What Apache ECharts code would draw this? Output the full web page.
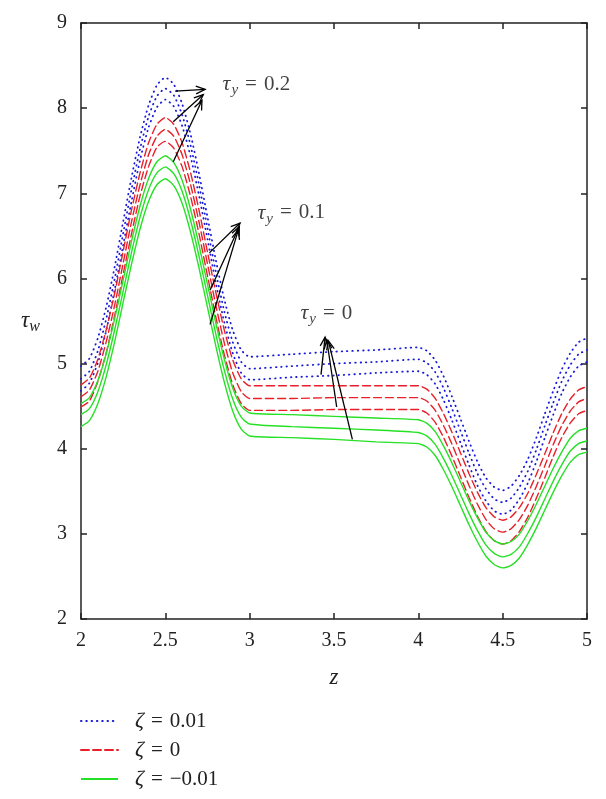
<!DOCTYPE html>
<html><head><meta charset="utf-8">
<script src="https://cdn.jsdelivr.net/npm/echarts@6/dist/echarts.min.js"></script>
<style>html,body{margin:0;padding:0;background:#fff}#c{width:606px;height:799px}</style>
</head><body><div id="c"></div>
<script>
const zVals = [2,2.05,2.1,2.15,2.2,2.25,2.3,2.35,2.4,2.45,2.5,2.55,2.6,2.65,2.7,2.75,2.8,2.85,2.9,2.95,3,
  3.25,3.5,3.75,
  4,4.05,4.1,4.15,4.2,4.25,4.3,4.35,4.4,4.45,4.5,4.55,4.6,4.65,4.7,4.75,4.8,4.85,4.9,4.95,5];

const blue02 = [4.97,5.06,5.30,5.67,6.14,6.67,7.19,7.66,8.03,8.27,8.36,8.28,8.05,7.69,7.23,6.72,6.21,5.75,5.39,5.16,5.08,
  5.11,5.14,5.16,
  5.19,5.15,5.04,4.85,4.61,4.35,4.09,3.85,3.66,3.55,3.51,3.56,3.69,3.88,4.13,4.41,4.68,4.93,5.12,5.25,5.30];
const blue01 = [4.82,4.91,5.15,5.53,6.00,6.53,7.05,7.52,7.90,8.14,8.23,8.15,7.92,7.56,7.10,6.59,6.07,5.61,5.25,5.02,4.94,
  4.97,5.00,5.02,
  5.05,5.01,4.90,4.71,4.47,4.21,3.95,3.71,3.53,3.41,3.37,3.42,3.55,3.74,3.99,4.27,4.54,4.79,4.98,5.11,5.16];
const blue00 = [4.68,4.77,5.01,5.39,5.87,6.39,6.91,7.39,7.77,8.01,8.10,8.02,7.79,7.43,6.97,6.46,5.94,5.48,5.12,4.89,4.81,
  4.84,4.86,4.89,
  4.91,4.87,4.76,4.57,4.33,4.07,3.81,3.57,3.39,3.27,3.23,3.28,3.41,3.60,3.85,4.13,4.40,4.65,4.84,4.97,5.02];

const red02 = [4.75,4.83,5.05,5.40,5.83,6.32,6.81,7.24,7.59,7.81,7.89,7.81,7.59,7.24,6.80,6.31,5.83,5.39,5.04,4.82,4.74,
  4.74,4.74,4.74,
  4.74,4.70,4.59,4.41,4.19,3.95,3.71,3.49,3.31,3.20,3.16,3.20,3.31,3.48,3.70,3.94,4.19,4.41,4.58,4.69,4.73];
const red01 = [4.61,4.69,4.91,5.26,5.69,6.18,6.67,7.10,7.45,7.67,7.75,7.67,7.45,7.10,6.66,6.17,5.68,5.24,4.89,4.67,4.59,
  4.59,4.60,4.60,
  4.60,4.56,4.45,4.27,4.05,3.81,3.57,3.35,3.17,3.06,3.02,3.06,3.17,3.34,3.56,3.80,4.05,4.27,4.44,4.55,4.59];
const red00 = [4.49,4.56,4.79,5.13,5.57,6.05,6.53,6.97,7.31,7.54,7.61,7.53,7.31,6.96,6.52,6.03,5.54,5.10,4.75,4.53,4.45,
  4.45,4.46,4.46,
  4.46,4.42,4.31,4.13,3.91,3.67,3.43,3.21,3.03,2.92,2.88,2.92,3.03,3.20,3.42,3.66,3.91,4.13,4.30,4.41,4.45];

const green02 = [4.53,4.60,4.80,5.12,5.53,5.98,6.44,6.85,7.17,7.37,7.44,7.36,7.15,6.81,6.39,5.93,5.47,5.05,4.71,4.50,4.42,
  4.40,4.38,4.36,
  4.34,4.30,4.20,4.03,3.83,3.61,3.39,3.19,3.02,2.92,2.88,2.91,3.00,3.16,3.35,3.56,3.77,3.96,4.12,4.21,4.24];
const green01 = [4.40,4.47,4.67,4.99,5.40,5.85,6.31,6.72,7.04,7.24,7.31,7.23,7.02,6.68,6.26,5.80,5.34,4.92,4.58,4.37,4.29,
  4.26,4.24,4.22,
  4.19,4.15,4.05,3.88,3.68,3.46,3.24,3.04,2.87,2.77,2.73,2.76,2.85,3.01,3.20,3.41,3.62,3.81,3.97,4.06,4.09];
const green00 = [4.26,4.33,4.53,4.85,5.26,5.72,6.17,6.58,6.90,7.10,7.17,7.09,6.88,6.54,6.12,5.66,5.20,4.78,4.44,4.23,4.15,
  4.13,4.11,4.08,
  4.06,4.02,3.92,3.75,3.55,3.33,3.11,2.91,2.74,2.64,2.60,2.63,2.72,2.88,3.07,3.28,3.49,3.68,3.84,3.93,3.96];

const legendNames = ['ζ = 0.01', 'ζ = 0', 'ζ = \u22120.01'];
const xTickLabels = ['2','2.5','3','3.5','4','4.5','5'];
const yTickLabels = ['2','3','4','5','6','7','8','9'];

// annotation arrows: [zTail, tauTail, zTip, tauTip]
const annotArrows = [
  [2.558,8.20,2.736,8.22],[2.547,7.84,2.725,8.16],[2.547,7.37,2.717,8.09],
  [2.761,6.30,2.943,6.65],[2.765,5.86,2.939,6.61],[2.765,5.46,2.933,6.57],
  [3.423,4.87,3.447,5.31],[3.516,4.49,3.457,5.28],[3.609,4.11,3.466,5.27]
];
const annotLabelPos = [[2.836,8.28],[3.043,6.77],[3.298,5.59]];
const annotLabelText = ['0.2','0.1','0'];

const FONT = 'Liberation Serif';
const BLUE = '#1a1adc', RED = '#e8202a', GREEN = '#26e026';
const SP = ' \u200A';

function pairs(ys){ return zVals.map((z,i)=>[z, ys[i]]); }
function lineSeries(name, ys, color, type, width){
  return {type:'line', name, data: pairs(ys), showSymbol:false, symbol:'none', smooth:0.2,
    lineStyle:{color, width, type, cap: type==='solid'?'butt':'round'}, itemStyle:{color},
    xAxisIndex:0, yAxisIndex:0, animation:false};
}
const dotted = [0.5,4.8], dashed = [8,4];

const series = [
  lineSeries(legendNames[0], blue02, BLUE, dotted, 1.8),
  lineSeries(legendNames[0], blue01, BLUE, dotted, 1.8),
  lineSeries(legendNames[0], blue00, BLUE, dotted, 1.8),
  lineSeries(legendNames[1], red02, RED, dashed, 1.4),
  lineSeries(legendNames[1], red01, RED, dashed, 1.4),
  lineSeries(legendNames[1], red00, RED, dashed, 1.4),
  lineSeries(legendNames[2], green02, GREEN, 'solid', 1.4),
  lineSeries(legendNames[2], green01, GREEN, 'solid', 1.4),
  lineSeries(legendNames[2], green00, GREEN, 'solid', 1.4),
  {type:'custom', name:'arrows', data: annotArrows, encode:{x:[0,2], y:[1,3]}, animation:false, silent:true, z:5,
    renderItem(params, api){
      const p0 = api.coord([api.value(0), api.value(1)]);
      const p1 = api.coord([api.value(2), api.value(3)]);
      const ang = Math.atan2(p1[1]-p0[1], p1[0]-p0[0]);
      const L = 10, a = 0.4;
      const h1 = [p1[0]-L*Math.cos(ang-a), p1[1]-L*Math.sin(ang-a)];
      const h2 = [p1[0]-L*Math.cos(ang+a), p1[1]-L*Math.sin(ang+a)];
      return {type:'group', children:[
        {type:'line', shape:{x1:p0[0],y1:p0[1],x2:p1[0],y2:p1[1]}, style:{stroke:'#000', lineWidth:1.3}},
        {type:'polyline', shape:{points:[h1,p1,h2]}, style:{stroke:'#000', fill:null, lineWidth:1.3}}
      ]};
    }},
  {type:'scatter', name:'labels', data: annotLabelPos, symbolSize:1, itemStyle:{color:'rgba(0,0,0,0)'},
    animation:false, silent:true, z:6,
    labelLayout:{hideOverlap:false},
    label:{show:true, position:'right', distance:0, color:'#111',
      formatter:(p)=>'{t|τ}{s|y}{n|'+SP+'='+SP+annotLabelText[p.dataIndex]+'}',
      rich:{
        t:{fontFamily:FONT, fontStyle:'italic', fontSize:22, color:'#111'},
        s:{fontFamily:FONT, fontStyle:'italic', fontSize:15, color:'#111', padding:[12,0,0,1]},
        n:{fontFamily:FONT, fontSize:21, color:'#111'}
      }}}
];

const axisLineStyle = {color:'#222', width:1.5};
const option = {
  backgroundColor:'#fff',
  animation:false,
  grid:{left:81, right:19, top:23, bottom:180, containLabel:false},
  xAxis:[
    {type:'value', min:2, max:5, interval:0.5, position:'bottom',
      axisLine:{show:true, onZero:false, lineStyle:axisLineStyle},
      axisTick:{show:true, inside:true, length:6, lineStyle:axisLineStyle},
      splitLine:{show:false},
      axisLabel:{fontFamily:FONT, fontSize:20, color:'#222', margin:12,
        formatter:(v)=>xTickLabels[Math.round((v-2)/0.5)]},
      name:'z', nameLocation:'middle', nameGap:47,
      nameTextStyle:{fontFamily:FONT, fontStyle:'italic', fontSize:23, color:'#222'}},
    {type:'value', min:2, max:5, interval:0.5, position:'top',
      axisLine:{show:true, onZero:false, lineStyle:axisLineStyle},
      axisTick:{show:true, inside:true, length:6, lineStyle:axisLineStyle},
      splitLine:{show:false}, axisLabel:{show:false}}
  ],
  yAxis:[
    {type:'value', min:2, max:9, interval:1, position:'left',
      axisLine:{show:true, onZero:false, lineStyle:axisLineStyle},
      axisTick:{show:true, inside:true, length:6, lineStyle:axisLineStyle},
      splitLine:{show:false},
      axisLabel:{fontFamily:FONT, fontSize:20, color:'#222', margin:14,
        formatter:(v)=>yTickLabels[Math.round(v-2)]},
      name:'{t|τ}{s|w}', nameLocation:'middle', nameRotate:0, nameGap:41,
      nameTextStyle:{rich:{
        t:{fontFamily:FONT, fontStyle:'italic', fontSize:23, color:'#222'},
        s:{fontFamily:FONT, fontStyle:'italic', fontSize:16, color:'#222', padding:[12,0,0,0]}
      }}},
    {type:'value', min:2, max:9, interval:1, position:'right',
      axisLine:{show:true, onZero:false, lineStyle:axisLineStyle},
      axisTick:{show:true, inside:true, length:6, lineStyle:axisLineStyle},
      splitLine:{show:false}, axisLabel:{show:false}}
  ],
  legend:{data:legendNames, orient:'vertical', left:80, top:710, height:95, padding:0,
    itemWidth:37, itemHeight:14, itemGap:7, icon:'inherit',
    itemStyle:{opacity:0},
    selectedMode:false,
    formatter:(n)=>'{i|ζ}{n|'+SP+'='+SP+n.slice(4)+'}',
    textStyle:{fontFamily:FONT, fontSize:21, color:'#222',
      rich:{i:{fontFamily:FONT, fontStyle:'italic', fontSize:22, color:'#222', padding:[0,0,0,12]},
            n:{fontFamily:FONT, fontSize:21, color:'#222'}}}},
  series
};
const chart = echarts.init(document.getElementById('c'), null, {renderer:'canvas'});
chart.setOption(option);
</script></body></html>
